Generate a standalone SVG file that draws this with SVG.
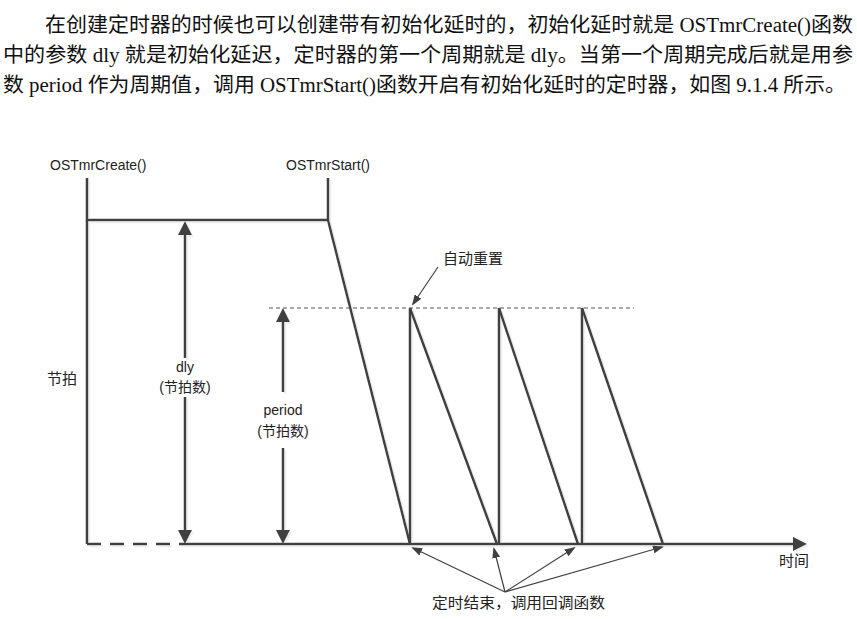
<svg xmlns="http://www.w3.org/2000/svg" width="857" height="619" viewBox="0 0 857 619">
<style>
.para{font-family:"Liberation Serif","Noto Sans CJK SC",serif;font-size:20.5px;fill:#111}
.lbl{font-family:"Liberation Sans","Noto Sans CJK SC",sans-serif;font-size:14px;fill:#222}
.cn{font-family:"Noto Sans CJK SC",sans-serif;font-size:15px;fill:#222}
.thick{stroke:#404040;stroke-width:2.5;fill:none}
.thin{stroke:#404040;stroke-width:1.2;fill:none}
.dash{stroke:#555;stroke-width:1;stroke-dasharray:4 3;fill:none}
.bdash{stroke:#404040;stroke-width:2.5;stroke-dasharray:14 9;fill:none}
</style>
<defs>
<marker id="big" markerUnits="userSpaceOnUse" viewBox="0 0 14 14" refX="10" refY="7" markerWidth="14" markerHeight="14" orient="auto">
<path d="M0,0 L14,7 L0,14 z" fill="#404040"/>
</marker>
<marker id="small" markerUnits="userSpaceOnUse" viewBox="0 0 11 8" refX="9" refY="4" markerWidth="11" markerHeight="8" orient="auto">
<path d="M0,0 L11,4 L0,8 z" fill="#404040"/>
</marker>
<filter id="sh" x="-5%" y="-5%" width="110%" height="110%">
<feOffset in="SourceAlpha" dx="2" dy="2" result="o"/>
<feColorMatrix in="o" type="matrix" values="0 0 0 0 0.8  0 0 0 0 0.8  0 0 0 0 0.8  0 0 0 0.7 0" result="c"/>
<feMerge><feMergeNode in="c"/><feMergeNode in="SourceGraphic"/></feMerge>
</filter>
</defs>
<rect width="857" height="619" fill="#fff"/>

<g id="paragraph">
<text class="para" x="45" y="32" textLength="808" lengthAdjust="spacingAndGlyphs">在创建定时器的时候也可以创建带有初始化延时的，初始化延时就是 OSTmrCreate()函数</text>
<text class="para" x="3" y="62" textLength="850" lengthAdjust="spacingAndGlyphs">中的参数 dly 就是初始化延迟，定时器的第一个周期就是 dly。当第一个周期完成后就是用参</text>
<text class="para" x="3" y="92" textLength="843" lengthAdjust="spacingAndGlyphs">数 period 作为周期值，调用 OSTmrStart()函数开启有初始化延时的定时器，如图 9.1.4 所示。</text>
</g>

<g id="labels">
<text class="lbl" x="50" y="170">OSTmrCreate()</text>
<text class="lbl" x="286" y="170">OSTmrStart()</text>
<text class="cn" x="47" y="384">节拍</text>
<text class="lbl" x="185" y="372" text-anchor="middle">dly</text>
<text class="lbl" x="185" y="392" text-anchor="middle">(节拍数)</text>
<text class="lbl" x="283" y="415" text-anchor="middle">period</text>
<text class="lbl" x="283" y="436" text-anchor="middle">(节拍数)</text>
<text class="cn" x="443" y="264">自动重置</text>
<text class="cn" x="779" y="566">时间</text>
<text class="cn" x="432" y="608" textLength="173" lengthAdjust="spacingAndGlyphs">定时结束，调用回调函数</text>
</g>

<g id="connectors">
<g id="timeline" filter="url(#sh)">
<polyline class="thick" points="87,178 87,220 328,220"/>
<line class="thick" x1="87" y1="220" x2="87" y2="544"/>
<line class="thick" x1="328" y1="178" x2="328" y2="220"/>
<line class="thick" x1="328" y1="220" x2="410" y2="544"/>
<line class="bdash" x1="87" y1="544" x2="184" y2="544"/>
<line class="thick" x1="184" y1="544" x2="803" y2="544" marker-end="url(#big)"/>
<line class="thick" x1="410" y1="308" x2="410" y2="544"/>
<line class="thick" x1="410" y1="308" x2="497" y2="544"/>
<line class="thick" x1="499" y1="308" x2="499" y2="544"/>
<line class="thick" x1="499" y1="308" x2="578" y2="544"/>
<line class="thick" x1="582" y1="308" x2="582" y2="544"/>
<line class="thick" x1="582" y1="308" x2="663" y2="544"/>
<line class="thick" x1="185" y1="358" x2="185" y2="225" marker-end="url(#big)"/>
<line class="thick" x1="185" y1="397" x2="185" y2="540" marker-end="url(#big)"/>
<line class="thick" x1="283" y1="392" x2="283" y2="312" marker-end="url(#big)"/>
<line class="thick" x1="283" y1="448" x2="283" y2="540" marker-end="url(#big)"/>
</g>
<line class="dash" x1="269" y1="308" x2="634" y2="308"/>
<line class="thin" x1="438" y1="267" x2="413" y2="304" marker-end="url(#small)"/>
<line class="thin" x1="505" y1="592" x2="413" y2="548" marker-end="url(#small)"/>
<line class="thin" x1="505" y1="592" x2="494" y2="549" marker-end="url(#small)"/>
<line class="thin" x1="505" y1="592" x2="574" y2="548" marker-end="url(#small)"/>
<line class="thin" x1="505" y1="592" x2="662" y2="547" marker-end="url(#small)"/>
</g>
</svg>
